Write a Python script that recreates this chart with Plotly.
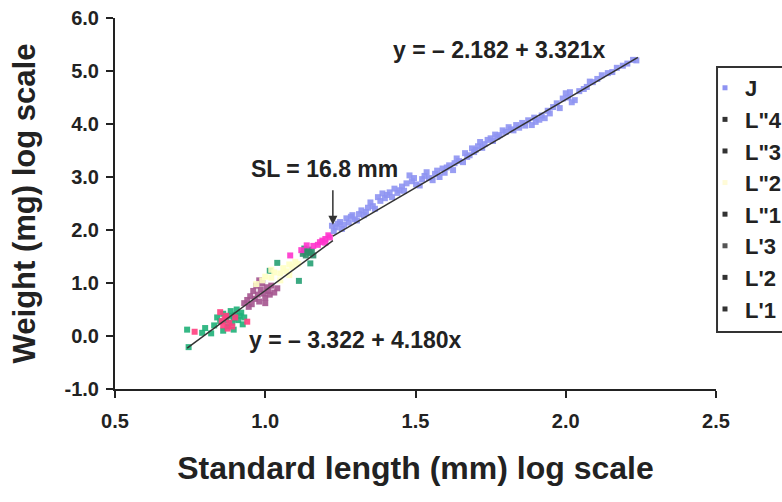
import plotly.graph_objects as go

# ---------------- data (log10 standard length, log10 weight) ----------------
J_x = [1.222, 1.228, 1.235, 1.242, 1.249, 1.255, 1.262, 1.270, 1.278, 1.285,
       1.290, 1.298, 1.305, 1.312, 1.320, 1.328, 1.335, 1.342, 1.350, 1.358,
       1.365, 1.375, 1.383, 1.390, 1.398, 1.405, 1.414, 1.422, 1.430, 1.440,
       1.447, 1.455, 1.462, 1.470, 1.480, 1.488, 1.495, 1.502, 1.514, 1.522,
       1.530, 1.537, 1.545, 1.557, 1.565, 1.572, 1.580, 1.590, 1.597, 1.604,
       1.612, 1.625, 1.630, 1.637, 1.645, 1.658, 1.665, 1.672, 1.680, 1.688,
       1.695, 1.700, 1.708, 1.715, 1.722, 1.730, 1.740, 1.750, 1.758, 1.765,
       1.772, 1.780, 1.790, 1.800, 1.810, 1.818, 1.826, 1.835, 1.845, 1.855,
       1.865, 1.875, 1.887, 1.895, 1.900, 1.912, 1.920, 1.930, 1.940, 1.947,
       1.958, 1.970, 1.980, 1.990, 2.000, 2.008, 2.014, 2.020, 2.030, 2.045,
       2.060, 2.070, 2.080, 2.090, 2.105, 2.120, 2.140, 2.155, 2.170, 2.190,
       2.205, 2.224, 2.235]
J_y = [2.08, 1.98, 2.05, 2.12, 2.15, 2.02, 2.10, 2.22, 2.14, 2.25,
       2.28, 2.20, 2.18, 2.30, 2.37, 2.28, 2.34, 2.42, 2.52, 2.45,
       2.40, 2.62, 2.55, 2.69, 2.60, 2.66, 2.71, 2.62, 2.78, 2.70,
       2.75, 2.82, 2.74, 2.88, 3.03, 2.92, 2.98, 2.86, 2.84, 2.96,
       3.02, 3.09, 2.98, 2.94, 3.06, 3.12, 3.00, 3.16, 3.08, 3.18,
       3.22, 3.13, 3.26, 3.35, 3.30, 3.28, 3.45, 3.38, 3.41, 3.54,
       3.47, 3.51, 3.58, 3.66, 3.55, 3.62, 3.70, 3.73, 3.68, 3.80,
       3.76, 3.79, 3.88, 3.85, 3.94, 3.90, 3.88, 3.98, 3.93, 4.02,
       3.97, 4.07, 3.98, 4.12, 4.04, 4.08, 4.16, 4.11, 4.25, 4.20,
       4.32, 4.39, 4.30, 4.48, 4.58, 4.50, 4.60, 4.41, 4.45, 4.62,
       4.66, 4.70, 4.80, 4.79, 4.85, 4.92, 4.96, 4.98, 5.06, 5.10,
       5.14, 5.21, 5.20]

L4_x = [1.083, 1.120, 1.138, 1.160, 1.175, 1.182, 1.190, 1.200, 1.200, 1.210, 1.215]
L4_y = [1.52, 1.62, 1.71, 1.70, 1.72, 1.77, 1.80, 1.76, 1.83, 1.90, 1.86]

L3_x = [1.125, 1.130, 1.130, 1.135, 1.140, 1.145, 1.150, 1.155, 1.160]
L3_y = [1.55, 1.60, 1.65, 1.52, 1.58, 1.63, 1.56, 1.60, 1.52]

L2_x = [0.97, 0.99, 1.00, 1.02, 1.02, 1.03, 1.05, 1.05, 1.06, 1.07, 1.08, 1.08, 1.09, 1.10, 1.11]
L2_y = [0.98, 1.05, 1.12, 1.10, 1.25, 1.20, 1.18, 1.05, 1.28, 1.22, 1.35, 1.15, 1.30, 1.40, 1.36]

L1_x = [1.015, 1.040, 1.112, 1.150]
L1_y = [1.23, 1.38, 1.04, 1.37]

Lp3_x = [0.930, 0.940, 0.945, 0.950, 0.955, 0.960, 0.965, 0.970, 0.975, 0.980, 0.980,
         0.985, 0.990, 0.995, 1.000, 1.000, 1.005, 1.010, 1.015, 1.020, 1.030, 1.040]
Lp3_y = [0.62, 0.68, 0.55, 0.75, 0.60, 0.85, 0.70, 0.95, 0.78, 0.65, 1.05,
         0.88, 1.00, 0.80, 0.72, 0.62, 0.92, 0.85, 0.78, 0.95, 0.82, 0.90]

Lp2_x = [0.765, 0.850, 0.855, 0.860, 0.865, 0.870, 0.875, 0.880, 0.890, 0.900, 0.940]
Lp2_y = [0.08, 0.45, 0.28, 0.20, 0.33, 0.38, 0.14, 0.25, 0.18, 0.35, 0.27]

Lp1_x = [0.740, 0.745, 0.790, 0.800, 0.820, 0.830, 0.840, 0.850, 0.860, 0.860, 0.870,
         0.875, 0.880, 0.885, 0.890, 0.895, 0.895, 0.900, 0.905, 0.910, 0.915,
         0.920, 0.925, 0.930]
Lp1_y = [0.12, -0.21, 0.06, 0.15, 0.05, 0.20, 0.35, 0.28, 0.42, 0.10, 0.30,
         0.18, 0.38, 0.47, 0.25, 0.33, 0.12, 0.40, 0.50, 0.30, 0.38,
         0.44, 0.22, 0.35]

series_names = ['J', 'L"4', 'L"3', 'L"2', 'L"1', "L'3", "L'2", "L'1"]
series_x = [J_x, L4_x, L3_x, L2_x, L1_x, Lp3_x, Lp2_x, Lp1_x]
series_y = [J_y, L4_y, L3_y, L2_y, L1_y, Lp3_y, Lp2_y, Lp1_y]
series_colors = ['#8e93f2', '#ff33cc', '#2f8f6c', '#ffffc4', '#26a073', '#a4548e', '#ff3f80', '#1fb078']
legend_colors = ['#8e93f2', '#333333', '#333333', '#fffbd8', '#333333', '#555555', '#333333', '#333333']

# regression lines: y = a + b x
reg_a = [-2.182, -3.322]
reg_b = [3.321, 4.180]
reg_x0 = [1.225, 0.74]
reg_x1 = [2.24, 1.225]

x_ticks = [0.5, 1.0, 1.5, 2.0, 2.5]
x_ticktext = ['0.5', '1.0', '1.5', '2.0', '2.5']
y_ticks = [-1, 0, 1, 2, 3, 4, 5, 6]
y_ticktext = ['-1.0', '0.0', '1.0', '2.0', '3.0', '4.0', '5.0', '6.0']

FONT = 'Liberation Sans, Arial, sans-serif'
INK = '#222222'

fig = go.Figure()

for name, xs, ys, col in list(zip(series_names, series_x, series_y, series_colors))[::-1]:
    fig.add_trace(go.Scatter(
        x=xs, y=ys, mode='markers', showlegend=False, hoverinfo='skip',
        marker=dict(symbol='square', size=6, color=col, opacity=0.9, line=dict(width=0))))

for a, b, x0, x1 in zip(reg_a, reg_b, reg_x0, reg_x1):
    fig.add_trace(go.Scatter(
        x=[x0, x1], y=[a + b * x0, a + b * x1], mode='lines', showlegend=False,
        hoverinfo='skip', line=dict(color='#333333', width=1.5)))

for i, (name, col) in enumerate(zip(series_names, legend_colors)):
    fig.add_trace(go.Scatter(
        x=[None], y=[None], mode='markers', name=name, legendgroup='g%d' % i,
        marker=dict(symbol='square', size=5, color=col)))

fig.add_annotation(x=1.781, y=5.39, text='y = – 2.182 + 3.321x', showarrow=False,
                   font=dict(family=FONT, size=23, color=INK, weight='bold'))
fig.add_annotation(x=1.30, y=-0.07, text='y = – 3.322 + 4.180x', showarrow=False,
                   font=dict(family=FONT, size=23, color=INK, weight='bold'))
fig.add_annotation(x=1.196, y=3.16, text='SL = 16.8 mm', showarrow=False,
                   font=dict(family=FONT, size=23, color=INK, weight='bold'))
fig.add_annotation(x=1.225, y=2.10, ax=0, ay=-36, text='', showarrow=True,
                   arrowhead=2, arrowsize=1.2, arrowwidth=1.5, arrowcolor='#333333')

# legend frame (box left edge at the plot's right side)
fig.add_shape(type='rect', xref='paper', yref='paper',
              x0=1.0017, x1=1.2, y0=(389 - 332) / 371, y1=(389 - 67) / 371,
              line=dict(color='#333333', width=2), fillcolor='white', layer='below')

axis_common = dict(showline=True, linecolor=INK, linewidth=2, ticks='outside',
                   ticklen=7, tickwidth=2, tickcolor=INK, showgrid=False, zeroline=False,
                   tickfont=dict(family=FONT, size=20, color=INK, weight='bold'))

fig.update_layout(
    width=782, height=502,
    margin=dict(l=115, r=66, t=18, b=113, autoexpand=False),
    paper_bgcolor='white', plot_bgcolor='rgba(0,0,0,0)',
    xaxis=dict(range=[0.5, 2.5], tickvals=x_ticks, ticktext=x_ticktext,
               ticklabelstandoff=6,
               title=dict(text='Standard length (mm) log scale', standoff=26,
                          font=dict(family=FONT, size=32, color=INK, weight='bold')),
               **axis_common),
    yaxis=dict(range=[-1, 6], tickvals=y_ticks, ticktext=y_ticktext,
               ticklabelstandoff=3,
               title=dict(text='Weight (mg) log scale', standoff=20,
                          font=dict(family=FONT, size=31, color=INK, weight='bold')),
               **axis_common),
    legend=dict(x=(705 - 115) / 601, y=0.868, xanchor='left', yanchor='top',
                borderwidth=0, bgcolor='rgba(0,0,0,0)',
                tracegroupgap=16, traceorder='normal',
                font=dict(family=FONT, size=22, color=INK, weight='bold')),
    showlegend=True,
)

fig.write_html('out.html')
